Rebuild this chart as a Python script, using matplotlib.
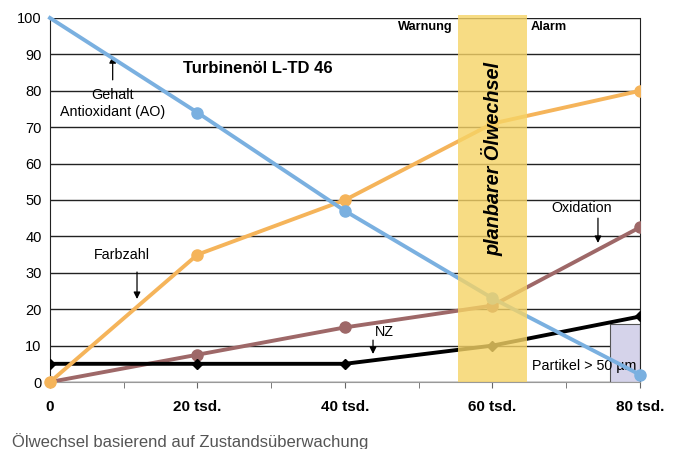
import numpy as np
import matplotlib.pyplot as plt
from matplotlib.patches import Rectangle

plt.rcParams['font.family'] = ['Liberation Sans', 'DejaVu Sans']

# Betriebsstunden (tsd.)
hours = [0, 20, 40, 60, 80]
x_labels = ["0", "20 tsd.", "40 tsd.", "60 tsd.", "80 tsd."]

# Messwerte
antioxidant = [100, 74, 47, 23, 2]
farbzahl = [0, 35, 50, 71, 80]
oxidation = [0, 7.5, 15, 21, 42.5]
nz = [5, 5, 5, 10, 18]

# Bereiche
change_band = (55.3, 64.7)
particle_box = (75.9, 80, 16)

fig = plt.figure(figsize=(6.81, 4.49), dpi=100)
ax = fig.add_axes([0.0734, 0.1492, 0.8664, 0.8108])

ax.plot(hours, oxidation, color='#9E6868', lw=2.8, marker='o', ms=8, zorder=3)
ax.plot(hours, nz, color='black', lw=2.8, marker='D', ms=5, zorder=3)
ax.plot(hours, farbzahl, color='#F5B45A', lw=2.8, marker='o', ms=8, zorder=3)
ax.plot(hours, antioxidant, color='#7AB0E0', lw=2.8, marker='o', ms=8,
        markevery=[1, 2, 3, 4], zorder=4, clip_on=False)
# orange marker at 0 on top
ax.plot(hours[:1], farbzahl[:1], color='#F5B45A', marker='o', ms=8, zorder=5, clip_on=False)

# Planbarer Oelwechsel
ax.add_patch(Rectangle((change_band[0], 0), change_band[1] - change_band[0], 100.8,
                       facecolor='#F6D466', alpha=0.8, edgecolor='none', zorder=6,
                       clip_on=False))
ax.text(sum(change_band) / 2, 61.3, "planbarer Ölwechsel", rotation=90, ha='center',
        va='center', fontsize=14.3, fontweight='bold', fontstyle='italic', zorder=7)

ax.add_patch(Rectangle((particle_box[0], 0), particle_box[1] - particle_box[0], particle_box[2],
                       facecolor='#D5D3EA', edgecolor='#555555', lw=0.8, zorder=2))

ax.set_xlim(0, 80)
ax.set_ylim(0, 100)
ax.set_yticks(range(0, 101, 10))
ax.set_xticks(hours)
ax.set_xticklabels(x_labels, fontweight='bold', fontsize=11)
ax.set_xticks([10, 30, 50, 70], minor=True)
ax.tick_params(axis='y', length=0, labelsize=10.5, pad=6)
ax.tick_params(axis='x', which='both', length=4, color='#666666', pad=9)
ax.grid(axis='y', color='#222222', lw=1.0, zorder=1)
ax.set_axisbelow(True)
ax.spines['top'].set_visible(False)
ax.spines['left'].set_color('#222222')
ax.spines['right'].set_color('#222222')
ax.spines['bottom'].set_color('#999999')

ax.text(54.6, 97.5, "Warnung", ha='right', va='center', fontsize=9.2, fontweight='bold')
ax.text(65.2, 97.5, "Alarm", ha='left', va='center', fontsize=9.2, fontweight='bold')
ax.text(18, 86, "Turbinenöl L-TD 46", ha='left', va='center', fontsize=12, fontweight='bold')

# Beschriftungen mit Pfeilen
arrow = dict(arrowstyle='-|>', color='black', lw=0.9, shrinkA=0, shrinkB=0, mutation_scale=10)

ax.text(8.5, 76.5, "Gehalt\nAntioxidant (AO)", ha='center', va='center', fontsize=10.3,
        linespacing=1.3)
ax.annotate("", xy=(8.5, 89.5), xytext=(8.5, 83), arrowprops=arrow)

ax.text(9.8, 34.9, "Farbzahl", ha='center', va='center', fontsize=10.3)
ax.annotate("", xy=(11.8, 22.8), xytext=(11.8, 30.2), arrowprops=arrow)

ax.text(72.1, 47.9, "Oxidation", ha='center', va='center', fontsize=10.3)
ax.annotate("", xy=(74.3, 38.2), xytext=(74.3, 45), arrowprops=arrow)

ax.text(45.3, 13.6, "NZ", ha='center', va='center', fontsize=10.3)
ax.annotate("", xy=(43.8, 7.7), xytext=(43.8, 11.5), arrowprops=arrow)

ax.text(79.5, 4.3, "Partikel > 50 µm", ha='right', va='center', fontsize=10.3, zorder=3)

fig.text(0.018, 0.017, "Ölwechsel basierend auf Zustandsüberwachung",
         fontsize=12, color='#555555', va='center')

fig.savefig("out.png", dpi=100)
